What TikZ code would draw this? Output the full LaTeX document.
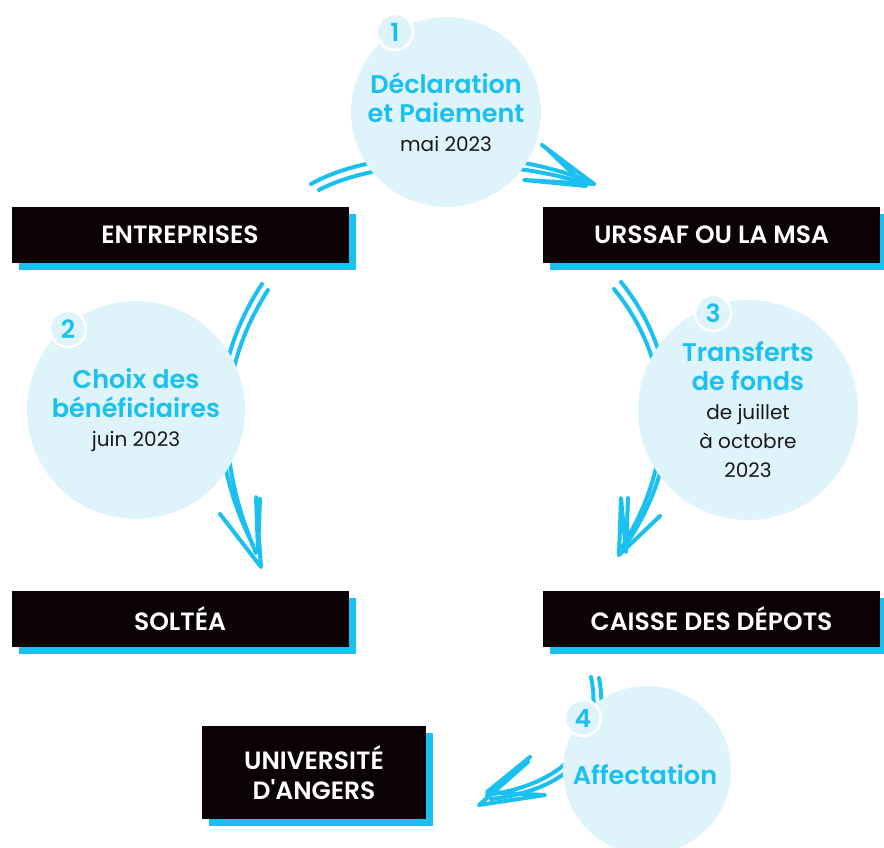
\documentclass[tikz,border=0pt]{standalone}
\usepackage{fontspec}
\setmainfont{Poppins}[BoldFont={Poppins SemiBold},Ligatures=TeXOff]
\usepackage{tikz}
\usetikzlibrary{shadows}
\definecolor{cyanc}{HTML}{1AC0F0}
\definecolor{paleblue}{HTML}{DFF3FA}
\definecolor{boxblack}{HTML}{0A0203}
\newcommand{\cyantxt}[1]{{\color{cyanc}\bfseries\fontsize{25.5}{29}\selectfont #1}}

\begin{document}
\begin{tikzpicture}[
    x=1pt, y=-1pt,
    box/.style = {fill=boxblack,text=white,font=\bfseries\fontsize{25}{30}\selectfont,
      align=center,minimum width=337pt,minimum height=56pt,inner sep=0pt,
      general shadow={fill=cyanc,shadow xshift=7pt,shadow yshift=-7pt}},
    stage/.style = {circle,fill=paleblue,align=center,inner sep=0pt,
      text=black!90,font=\fontsize{20}{29}\selectfont},
    badge/.style = {circle,fill=paleblue,draw=white,line width=2.5pt,
      minimum size=36pt,inner sep=0pt,text=cyanc,font=\bfseries\fontsize{25}{25}\selectfont},
    scribble/.style = {draw=cyanc,line width=4pt,line cap=round,line join=round}
    ]
    \useasboundingbox (0,0) rectangle (884,847);
    % Arrow ends
    \coordinate (a1s) at (311,184);
    \coordinate (a1t) at (594,184);
    \coordinate (a2s) at (262,284);
    \coordinate (a2t) at (261,567);
    \coordinate (a3s) at (614,289);
    \coordinate (a3t) at (619,555);
    \coordinate (a4s) at (591,677);
    \coordinate (a4t) at (479,805);
    % Arrows (behind the circles)
    \draw[scribble] (a1s) .. controls (380,145) and (515,148) .. (a1t);
    \draw[scribble] ([shift={(8,6)}]a1s) .. controls (385,155) and (510,160) .. ([shift={(-14,-2)}]a1t);
    \draw[scribble] (542,145) -- (a1t) -- (524,180) -- (586,186) -- (548,150);
    \draw[scribble] (a2s) .. controls (212,360) and (205,450) .. ([shift={(-8,-22)}]a2t);
    \draw[scribble] ([shift={(6,6)}]a2s) .. controls (220,365) and (212,450) .. ([shift={(-5,-14)}]a2t);
    \draw[scribble] (220,514) -- (a2t) -- (256,497) -- (258,552) -- (260,499);
    \draw[scribble] (a3s) .. controls (672,360) and (680,455) .. ([shift={(3,-8)}]a3t);
    \draw[scribble] ([shift={(7,-7)}]a3s) .. controls (680,355) and (686,455) .. ([shift={(8,-12)}]a3t);
    \draw[scribble] (660,516) -- (a3t) -- (621,498) -- (626,552) -- (628,498);
    \draw[scribble] (a4s) .. controls (605,745) and (560,785) .. ([shift={(8,-10)}]a4t);
    \draw[scribble] ([shift={(8,1)}]a4s) .. controls (612,745) and (570,790) .. ([shift={(12,-6)}]a4t);
    \draw[scribble] (530,757) -- (487,792) -- (545,795) -- (a4t) -- (528,762);
    % Stages
    \node[stage,minimum size=190pt] (decl) at (446,112)
      {\cyantxt{Déclaration}\\\cyantxt{et Paiement}\\mai 2023};
    \node[stage,minimum size=218pt] (choix) at (136,410)
      {\cyantxt{Choix des}\\\cyantxt{bénéficiaires}\\juin 2023};
    \node[stage,minimum size=220pt] (transf) at (748,410)
      {\cyantxt{Transferts}\\\cyantxt{de fonds}\\de juillet\\à octobre\\2023};
    \node[stage,minimum size=168pt] (affect) at (647,770) {};
    \node[text=cyanc,font=\bfseries\fontsize{25.5}{29}\selectfont] (affectlbl) at (645,775) {Affectation};
    % Numbers
    \foreach \n/\x/\y in {1/395/32, 2/68/329, 3/713/313, 4/583/718}
      \node[badge] (num\n) at (\x,\y) {\n};
    % Boxes
    \node[box] (entr) at (180,235) {ENTREPRISES};
    \node[box] (urssaf) at (711.5,235) {URSSAF OU LA MSA};
    \node[box] (soltea) at (180,618.5) {SOLTÉA};
    \node[box] (caisse) at (711.5,618.5) {CAISSE DES DÉPOTS};
    \node[box,minimum width=224pt,minimum height=93pt] (univ) at (314,772.5) {UNIVERSITÉ\\D'ANGERS};
\end{tikzpicture}
\end{document}
